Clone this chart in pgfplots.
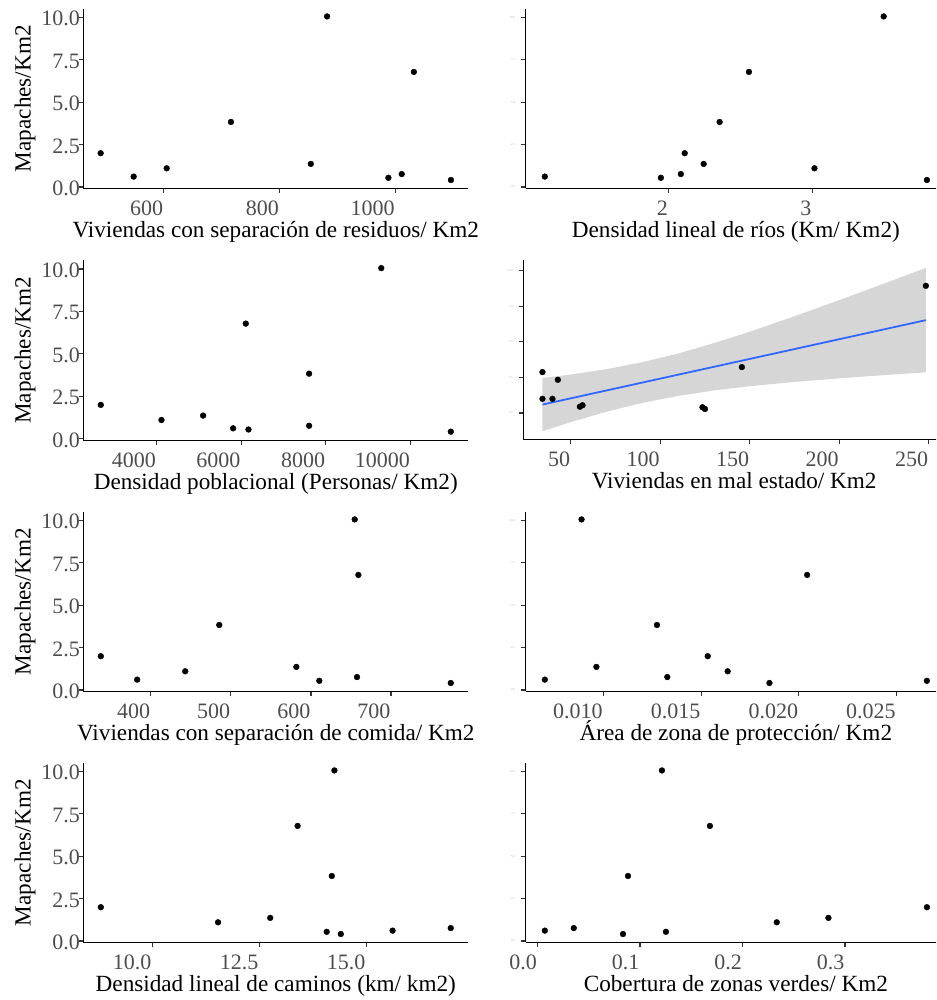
\documentclass[border=0pt]{standalone}
\usepackage{pgfplots}
\pgfplotsset{compat=1.18}
\usepackage{fontspec}
\setmainfont{Liberation Serif}
\definecolor{tickgray}{HTML}{4D4D4D}
\definecolor{smoothblue}{HTML}{3366FF}
\definecolor{ribbon}{HTML}{999999}

\pgfplotsset{
  gg/.style={
    scale only axis,
    height=179.7pt,
    axis lines*=left,
    axis line style={line width=1.1pt, black},
    tick align=outside,
    major tick length=4.6pt,
    every tick/.style={line width=1.1pt, black!80},
    scaled ticks=false,
    ymin=-0.09, ymax=10.5,
    ytick={0,2.5,5,7.5,10},
    yticklabels={0.0,2.5,5.0,7.5,10.0},
    tick label style={font=\fontsize{22}{24}\selectfont, text=tickgray},
    xticklabel style={anchor=base east, inner sep=0pt, yshift=-22.4pt, xshift=-0.5pt},
    xlabel style={font=\fontsize{23.2}{26}\selectfont, at={(axis description cs:0.5,0)}, anchor=base, yshift=-49pt},
  },
  colL/.style={gg, width=385pt,
    yticklabel style={anchor=east, inner sep=0pt, xshift=1.3pt, yshift=-1.5pt},
    ylabel={Mapaches/Km2},
    ylabel style={font=\fontsize{23.2}{26}\selectfont, at={(axis description cs:-0.1515,0.5)}, anchor=center},
  },
  colR/.style={gg, width=420.3pt,
    yticklabel style={anchor=east, inner sep=0pt, xshift=-6pt, font=\fontsize{3}{3}\selectfont, text=black!30},
  },
  pts/.style={only marks, mark=*, mark size=2.9pt, color=black, mark options={draw=black, fill=black}},
}

\begin{document}
\begin{tikzpicture}[x=1pt,y=1pt]
\path[use as bounding box] (0,0) rectangle (936,1000);

\begin{scope}
\clip (0,0) rectangle (481,1000);
% Panel 1
\begin{axis}[colL, at={(83.3pt,811.5pt)}, anchor=south west,
  xmin=461, xmax=1126, xtick={600,800,1000}, xticklabels={600,800,1000},
  xlabel={Viviendas con separación de residuos/ Km2}]
\addplot[pts] coordinates {(491,1.99) (548,0.61) (605,1.10) (716,3.83) (854,1.36) (882,10.05) (988,0.54) (1011,0.76) (1032,6.78) (1096,0.41)};
\end{axis}
% Panel 3
\begin{axis}[colL, at={(83.3pt,559.8pt)}, anchor=south west,
  xmin=2272, xmax=11366, xtick={4000,6000,8000,10000}, xticklabels={4000,6000,8000,10000},
  xlabel={Densidad poblacional (Personas/ Km2)}]
\addplot[pts] coordinates {(2685,1.99) (4118,1.10) (5102,1.36) (5811,0.61) (6173,0.54) (6110,6.78) (7606,3.83) (7606,0.76) (9310,10.05) (10953,0.41)};
\end{axis}
% Panel 5
\begin{axis}[colL, at={(83.3pt,308.5pt)}, anchor=south west,
  xmin=315.6, xmax=796.5, xtick={400,500,600,700}, xticklabels={400,500,600,700},
  xlabel={Viviendas con separación de comida/ Km2}]
\addplot[pts] coordinates {(337.5,1.99) (382.9,0.61) (442.9,1.10) (485.4,3.83) (581.7,1.36) (610.4,0.54) (654.6,10.05) (659.2,6.78) (657.5,0.76) (774.6,0.41)};
\end{axis}
% Panel 7
\begin{axis}[colL, at={(83.3pt,57.5pt)}, anchor=south west,
  xmin=8.39, xmax=17.39, xtick={10,12.5,15}, xticklabels={10.0,12.5,15.0},
  xlabel={Densidad lineal de caminos (km/ km2)}]
\addplot[pts] coordinates {(8.80,1.99) (11.54,1.10) (12.76,1.36) (13.40,6.78) (14.08,0.54) (14.20,3.83) (14.26,10.05) (14.41,0.41) (15.62,0.61) (16.98,0.76)};
\end{axis}
\end{scope}

\begin{scope}
\clip (481,0) rectangle (936,1000);
% Panel 2
\begin{axis}[colR, at={(525.7pt,811.5pt)}, anchor=south west,
  xmin=1.006, xmax=3.932, xtick={2,3}, xticklabels={2,3},
  xlabel={Densidad lineal de ríos (Km/ Km2)}]
\addplot[pts] coordinates {(1.139,0.61) (1.947,0.54) (2.086,0.76) (2.113,1.99) (2.245,1.36) (2.356,3.83) (2.56,6.78) (3.016,1.10) (3.498,10.05) (3.799,0.41)};
\end{axis}
% Panel 4
\begin{axis}[colR, at={(523.3pt,560.7pt)}, anchor=south west, width=421.7pt, height=179.5pt,
  xmin=23.4, xmax=259, ymin=-1.85, ymax=10.76,
  xtick={50,100,150,200,250}, xticklabels={50,100,150,200,250},
  xlabel={Viviendas en mal estado/ Km2}]
\addplot[pts] coordinates {(34.1,2.87) (34.1,0.99) (39.7,0.99) (42.7,2.33) (55.0,0.44) (56.5,0.54) (123.5,0.40) (124.9,0.28) (145.5,3.22) (248.3,8.93)};
\addplot[draw=none, fill=ribbon, fill opacity=0.4] coordinates {
  (34.1,2.46) (50,2.70) (70,3.08) (90.4,3.58) (110,4.18) (130,4.91) (150,5.71) (175,6.80) (200,7.93) (225,9.09) (248.3,10.19)
  (248.3,2.85) (225,2.66) (200,2.43) (175,2.18) (150,1.88) (130,1.58) (110,1.20) (90.4,0.72) (70,0.09) (50,-0.64) (34.1,-1.28)} -- cycle;
\addplot[smoothblue, line width=1.8pt] coordinates {(34.1,0.59) (248.3,6.52)};
\end{axis}
% Panel 6
\begin{axis}[colR, at={(525.7pt,308.5pt)}, anchor=south west,
  xmin=0.00602, xmax=0.02754, xtick={0.010,0.015,0.020,0.025}, xticklabels={0.010,0.015,0.020,0.025},
  xlabel={Área de zona de protección/ Km2}]
\addplot[pts] coordinates {(0.0070,0.61) (0.00888,10.05) (0.00964,1.36) (0.01274,3.83) (0.01327,0.76) (0.01534,1.99) (0.01636,1.10) (0.0185,0.41) (0.02043,6.78) (0.02656,0.54)};
\end{axis}
% Panel 8
\begin{axis}[colR, at={(525.7pt,57.5pt)}, anchor=south west,
  xmin=-0.0115, xmax=0.3985, xtick={0,0.1,0.2,0.3}, xticklabels={0.0,0.1,0.2,0.3},
  xlabel={Cobertura de zonas verdes/ Km2}]
\addplot[pts] coordinates {(0.00714,0.61) (0.0354,0.76) (0.0834,0.41) (0.0883,3.83) (0.1214,10.05) (0.1253,0.54) (0.1682,6.78) (0.2334,1.10) (0.2838,1.36) (0.3799,1.99)};
\end{axis}
\end{scope}
\end{tikzpicture}
\end{document}
